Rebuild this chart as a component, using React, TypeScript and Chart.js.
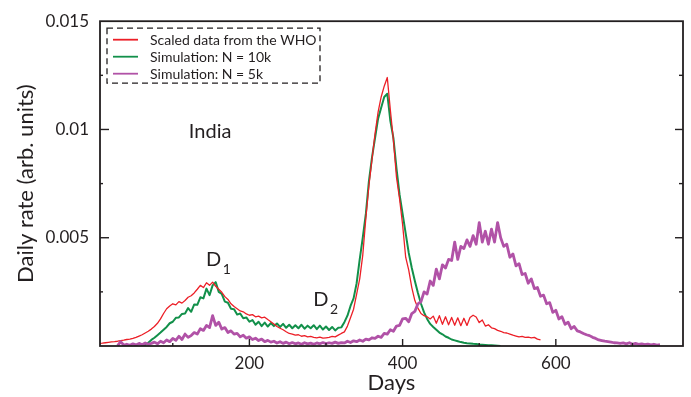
import React, { useEffect, useRef } from 'react';
import { Chart, registerables } from 'chart.js';

Chart.register(...registerables);

// ---------------- data (daily rate in units of 1e-5) ----------------
const DAY_STEP = 4;
const UNIT = 1e-5;

const whoStartDay = 4;
const whoRate = [
  12, 13, 15, 17, 19, 20, 22, 25, 27, 30,
  32, 35, 40, 46, 52, 60, 68, 78, 90, 105,
  125, 150, 172, 185, 195, 190, 205, 198, 210, 225,
  232, 245, 262, 280, 270, 292, 280, 295, 276, 262,
  248, 228, 215, 195, 182, 172, 162, 158, 148, 142,
  145, 135, 138, 130, 133, 122, 112, 102, 90, 82,
  75, 66, 58, 55, 50, 52, 45, 48, 42, 44,
  40, 38, 41, 36, 38, 40, 44, 42, 50, 58,
  65, 92, 130, 170, 240, 310, 420, 590, 740, 860,
  980, 1080, 1150, 1200, 1240, 1090, 950, 780, 680, 560,
  410, 350, 270, 210, 175, 150, 140, 135,
  125, 138, 105, 140, 100, 135, 98, 132, 96, 130,
  94, 128, 95, 132, 142, 134, 108, 120, 92, 98,
  84, 80, 72, 68, 62, 60, 55, 50, 46, 42,
  44, 40, 41, 38, 40, 32, 28,
];

const sim10kStartDay = 60;
const sim10kRate = [
  0, 5, 15, 28, 38, 50, 62, 75, 88, 105,
  112, 130, 132, 148, 150, 175, 158, 192, 190, 225,
  220, 265, 235, 280, 295, 250, 240, 205, 200, 172,
  170, 145, 150, 128, 132, 112, 120, 98, 112, 92,
  108, 90, 106, 92, 104, 88, 102, 84, 98, 82,
  96, 82, 98, 80, 94, 82, 96, 78, 94, 76,
  90, 74, 88, 72, 84, 86, 110, 140, 185, 220,
  290, 400, 500, 610, 760, 870, 960, 1050, 1100, 1150,
  1165, 1040, 960, 820, 700, 610, 520, 430, 360, 300,
  245, 195, 155, 125, 102, 88, 75, 62, 54, 44,
  38, 30, 26, 22, 18, 15, 13, 12, 10, 9,
  7, 6, 5, 4, 3, 2, 1, 0,
];

const sim5kStartDay = 28;
const sim5kRate = [
  2, 20, 4, 8, 3, 10, 5, 12, 6, 14,
  8, 12, 18, 10, 22, 15, 28, 20, 35, 26,
  45, 30, 55, 40, 48, 62, 55, 80, 72, 95,
  85, 140, 95, 110, 78, 85, 62, 70, 55, 58,
  42, 50, 36, 42, 30, 36, 25, 32, 20, 26,
  18, 22, 14, 20, 12, 18, 10, 16, 10, 14,
  8, 15, 10, 13, 8, 14, 10, 16, 11, 15,
  12, 18, 12, 16, 14, 22, 16, 24, 20, 28,
  22, 32, 28, 38, 35, 45, 40, 58, 55, 75,
  68, 92, 95, 125, 128, 112, 150, 160, 195, 205,
  250, 240, 300, 280, 355, 310, 375, 360, 400, 395,
  480, 400, 460, 450, 490, 460, 510, 470, 570, 480,
  530, 470, 540, 480, 570, 500, 460, 470, 410, 425,
  370, 380, 330, 335, 290, 310, 265, 270, 230, 235,
  195, 200, 155, 165, 125, 135, 100, 110, 80, 90,
  70, 65, 58, 52, 48, 40, 35, 28, 25, 22,
  20, 18, 15, 14, 12, 14, 10, 15, 8, 12,
  8, 10, 6, 9, 5, 8, 4, 6,
];

const seriesNames = ['Scaled data from the WHO', 'Simulation: N = 10k', 'Simulation: N = 5k'];

// ---------------- axes ----------------
const xMin = 5;
const xMax = 766;
const yMin = 0;
const yMax = 0.015;
const xTickDays = [100, 200, 300, 400, 500, 600, 700];
const xLabeledDays = [200, 400, 600];
const yTickValues = [0.0025, 0.005, 0.0075, 0.01, 0.0125];
const yLabeledValues = [0.005, 0.01, 0.015];
const yLabelTexts = ['0.005', '0.01', '0.015'];

// ---------------- styles ----------------
const INK = '#231f20';
const FONT = 'Lato, "Open Sans", sans-serif';
const seriesColors = ['#ec1f27', '#12904a', '#b152a7'];
const seriesWidths = [1.3, 2, 2.8];

const annotations = [
  { text: 'India', sub: '', day: 121, value: 0.0096 },
  { text: 'D', sub: '1', day: 143.5, value: 0.00368 },
  { text: 'D', sub: '2', day: 283.5, value: 0.00183 },
];

function toPoints(start: number, vals: number[]) {
  return vals.map((v, i) => ({ x: start + i * DAY_STEP, y: v * UNIT }));
}

const decorPlugin = {
  id: 'decor',
  afterDatasetsDraw(chart: any) {
    const ctx = chart.ctx as CanvasRenderingContext2D;
    const { left, right, top, bottom } = chart.chartArea;
    const xs = chart.scales.x;
    const ys = chart.scales.y;
    ctx.save();
    ctx.strokeStyle = INK;
    ctx.lineCap = 'butt';
    ctx.lineWidth = 1.4;
    const seg = (x1: number, y1: number, x2: number, y2: number) => {
      ctx.beginPath();
      ctx.moveTo(x1, y1);
      ctx.lineTo(x2, y2);
      ctx.stroke();
    };
    xTickDays.forEach((d) => {
      const px = xs.getPixelForValue(d);
      const len = xLabeledDays.includes(d) ? 7 : 3;
      seg(px, bottom, px, bottom - len);
    });
    yTickValues.forEach((v) => {
      const py = ys.getPixelForValue(v);
      const major = yLabeledValues.some((t) => Math.abs(t - v) < 1e-9);
      seg(left, py, left + (major ? 9 : 3), py);
      seg(right, py, right - (major ? 8 : 4), py);
    });
    ctx.lineWidth = 1.8;
    ctx.strokeRect(left, top, right - left, bottom - top);

    // legend
    const lx = left + 7;
    const ly = top + 7;
    ctx.lineWidth = 1.3;
    ctx.setLineDash([6, 4]);
    ctx.strokeRect(lx, ly, 213, 55);
    ctx.setLineDash([]);
    ctx.font = `14px ${FONT}`;
    ctx.textBaseline = 'middle';
    ctx.textAlign = 'left';
    seriesNames.forEach((name, i) => {
      const yy = ly + 11.5 + i * 17;
      ctx.strokeStyle = seriesColors[i];
      ctx.lineWidth = 1.8;
      seg(lx + 6, yy, lx + 31, yy);
      ctx.fillStyle = INK;
      ctx.fillText(name, lx + 43, yy + 1);
    });

    // annotations
    ctx.fillStyle = INK;
    ctx.textBaseline = 'alphabetic';
    annotations.forEach((a) => {
      const px = xs.getPixelForValue(a.day);
      const py = ys.getPixelForValue(a.value);
      ctx.font = `20px ${FONT}`;
      ctx.fillText(a.text, px, py);
      if (a.sub) {
        const w = ctx.measureText(a.text).width;
        ctx.font = `14px ${FONT}`;
        ctx.fillText(a.sub, px + w + 1.5, py + 7.5);
      }
    });
    ctx.restore();
  },
};

export default function App() {
  const ref = useRef<HTMLCanvasElement | null>(null);
  useEffect(() => {
    if (!ref.current) return;
    const chart = new Chart(ref.current, {
      type: 'line',
      data: {
        datasets: [
          {
            label: seriesNames[0],
            data: toPoints(whoStartDay, whoRate),
            borderColor: seriesColors[0],
            borderWidth: seriesWidths[0],
            borderJoinStyle: 'round',
            pointRadius: 0,
            order: 2,
          },
          {
            label: seriesNames[1],
            data: toPoints(sim10kStartDay, sim10kRate),
            borderColor: seriesColors[1],
            borderWidth: seriesWidths[1],
            borderJoinStyle: 'round',
            pointRadius: 0,
            order: 3,
          },
          {
            label: seriesNames[2],
            data: toPoints(sim5kStartDay, sim5kRate),
            borderColor: seriesColors[2],
            borderWidth: seriesWidths[2],
            borderJoinStyle: 'round',
            pointRadius: 0,
            order: 1,
          },
        ],
      },
      options: {
        responsive: false,
        animation: false,
        devicePixelRatio: 1,
        layout: { padding: { left: 0, right: 8, top: 16, bottom: 0 } },
        plugins: { legend: { display: false }, tooltip: { enabled: false } },
        elements: { line: { tension: 0 } },
        scales: {
          x: {
            type: 'linear',
            min: xMin,
            max: xMax,
            grid: { display: false, drawTicks: false },
            border: { display: false },
            afterFit: (s: any) => {
              s.height = 51;
            },
            ticks: {
              stepSize: 100,
              autoSkip: false,
              maxRotation: 0,
              padding: 7,
              color: INK,
              font: { family: FONT, size: 17 },
              callback: (v: any) => (xLabeledDays.includes(Number(v)) ? String(v) : ''),
            },
            title: {
              display: true,
              text: 'Days',
              color: INK,
              font: { family: FONT, size: 22 },
              padding: { top: 0, bottom: 1 },
            },
          },
          y: {
            min: yMin,
            max: yMax,
            grid: { display: false, drawTicks: false },
            border: { display: false },
            afterFit: (s: any) => {
              s.width = 100;
            },
            ticks: {
              stepSize: 0.0025,
              autoSkip: false,
              padding: 11,
              color: INK,
              font: { family: FONT, size: 17 },
              callback: (v: any) => {
                const i = yLabeledValues.findIndex((t) => Math.abs(t - Number(v)) < 1e-9);
                return i >= 0 ? yLabelTexts[i] : '';
              },
            },
            title: {
              display: true,
              text: 'Daily rate (arb. units)',
              color: INK,
              font: { family: FONT, size: 22 },
              padding: { top: 13, bottom: 0 },
            },
          },
        },
      },
      plugins: [decorPlugin],
    } as any);
    return () => chart.destroy();
  }, []);
  return (
    <div style={{ position: 'absolute', left: 0, top: 0, width: 691, height: 397, background: '#fff' }}>
      <canvas ref={ref} width={691} height={397} />
    </div>
  );
}
